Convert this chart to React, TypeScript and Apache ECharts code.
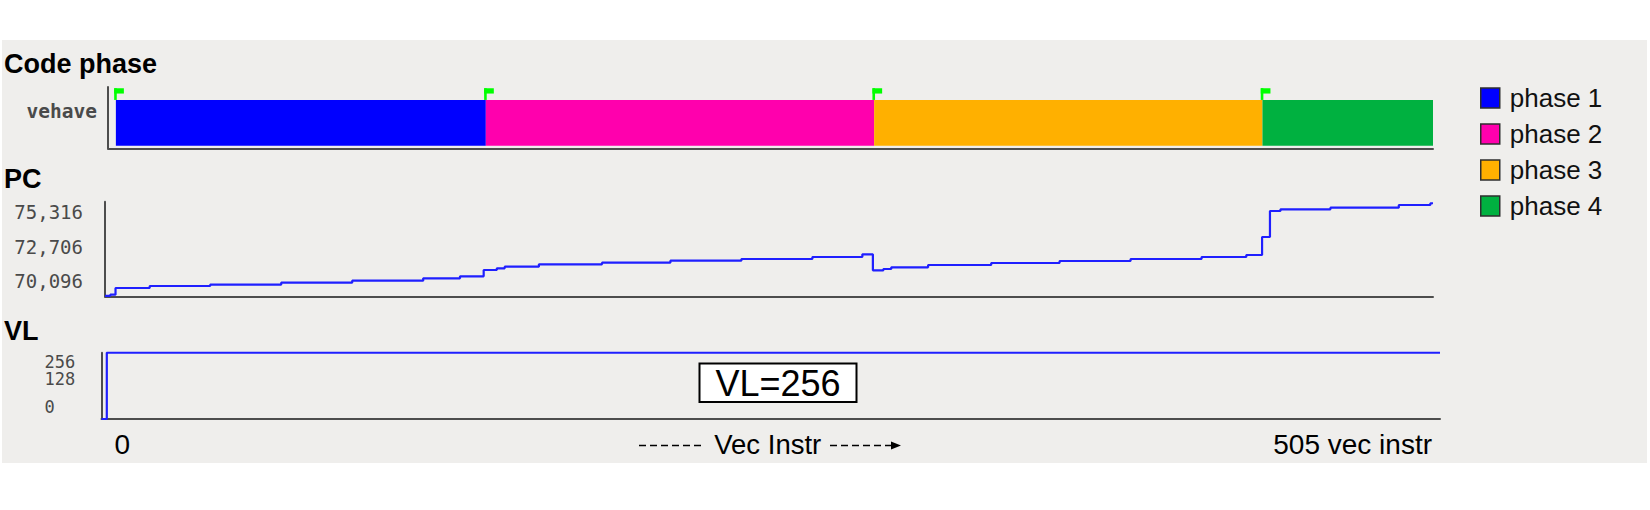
import React, { useEffect, useRef } from 'react';
import * as echarts from 'echarts';

// ---------------- data ----------------
const TITLES = ['Code phase', 'PC', 'VL'];
const THREAD_CATEGORIES = ['vehave'];

const PHASE_NAMES = ['phase 1', 'phase 2', 'phase 3', 'phase 4'];
const PHASE_STARTS = [3, 144, 292, 440];
const PHASE_ENDS = [144, 292, 440, 505];
const PHASE_COLORS = ['#0000ff', '#ff00ad', '#ffb000', '#00b140'];

const PC_INSTR = [0, 2, 4, 17, 40, 67, 94, 121, 135, 144, 149, 152, 165, 189, 215, 242, 269, 288, 292, 296, 299, 313, 337, 363, 390, 417, 434, 440, 443, 447, 466, 492, 504, 505];
const PC_VALUES = [68990, 69080, 69584, 69735, 69833, 69983, 70133, 70314, 70464, 70938, 71066, 71187, 71367, 71487, 71638, 71766, 71916, 72119, 70916, 71014, 71141, 71314, 71465, 71615, 71766, 71916, 72067, 73421, 75376, 75504, 75625, 75828, 75960, 75960];
const PC_TICKS = [70096, 72706, 75316];
const PC_MIN = 68945;
const PC_MAX = 76076;

const VL_INSTR = [0, 2, 505];
const VL_VALUES = [0, 256, 256];
const VL_TICKS = [0, 128, 256];
const VL_NOTE = 'VL=256';

const X_MIN = 0;
const X_MAX = 505;
const X_LABELS = ['0', '505 vec instr'];
const X_NAME = 'Vec Instr';

// ---------------- styles ----------------
const FONT = 'Liberation Sans, Arial, sans-serif';
const MONO = 'DejaVu Sans Mono, monospace';
const AXIS_COLOR = '#4d4d4d';
const LINE_COLOR = '#1f1fff';
const FLAG_COLOR = '#00ff00';
const TICK_TEXT = '#4a4a4a';

const axisLine = { show: true, onZero: false, lineStyle: { color: AXIS_COLOR, width: 2 } };
const noTick = { show: false };
const noSplit = { show: false };

const phaseRender = (params: any, api: any) => {
  const cat = api.value(2);
  const s = api.coord([api.value(0), cat]);
  const e = api.coord([api.value(1), cat]);
  const bottom = s[1] + 28;
  const height = 45.7;
  const top = bottom - height;
  return {
    type: 'group',
    children: [
      { type: 'rect', shape: { x: s[0], y: top, width: e[0] - s[0], height }, style: { fill: api.visual('color') } },
      { type: 'rect', shape: { x: s[0] - 1.7, y: top - 11.7, width: 2.6, height: 11.7 }, style: { fill: FLAG_COLOR } },
      { type: 'rect', shape: { x: s[0] - 1.7, y: top - 11.7, width: 9.7, height: 5.3 }, style: { fill: FLAG_COLOR } },
    ],
  };
};

const vlRich: any = {};
const VL_PADS: Record<number, number[]> = { 0: [0, 0, 25, 0], 128: [0, 0, 13, 0], 256: [18, 0, 0, 0] };
VL_TICKS.forEach((v) => {
  vlRich['t' + v] = { fontFamily: MONO, fontSize: 17, color: TICK_TEXT, padding: VL_PADS[v] || [0, 0, 0, 0] };
});

const option: any = {
  animation: false,
  backgroundColor: '#ffffff',
  textStyle: { fontFamily: FONT },
  title: TITLES.map((t, i) => ({
    text: t,
    left: 4,
    top: [50, 165.5, 317.5][i],
    padding: 0,
    textStyle: { fontFamily: FONT, fontSize: 27, fontWeight: 'bold', color: '#000000' },
  })),
  legend: {
    data: PHASE_NAMES,
    orient: 'vertical',
    left: 1480,
    top: 85,
    padding: 0,
    itemWidth: 19,
    itemHeight: 20,
    itemGap: 10,
    icon: 'rect',
    selectedMode: false,
    itemStyle: { borderColor: '#2e2e2e', borderWidth: 1.5 },
    textStyle: { fontFamily: FONT, fontSize: 26, color: '#111111', padding: [0, 0, 0, 5] },
  },
  grid: [
    { left: 108, top: 87, width: 1325, height: 61.3, outerBoundsMode: 'none', containLabel: false },
    { left: 105, top: 201.7, width: 1328, height: 94.8, outerBoundsMode: 'none', containLabel: false },
    { left: 101.5, top: 352.7, width: 1338.5, height: 66.3, outerBoundsMode: 'none', containLabel: false },
  ],
  xAxis: [
    { gridIndex: 0, type: 'value', min: X_MIN, max: X_MAX, axisLine, axisTick: noTick, axisLabel: { show: false }, splitLine: noSplit },
    { gridIndex: 1, type: 'value', min: X_MIN, max: X_MAX, axisLine, axisTick: noTick, axisLabel: { show: false }, splitLine: noSplit },
    {
      gridIndex: 2,
      type: 'value',
      min: X_MIN,
      max: X_MAX,
      axisLine,
      axisTick: noTick,
      splitLine: noSplit,
      name: X_NAME,
      nameLocation: 'middle',
      nameGap: 11.5,
      nameMoveOverlap: false,
      nameTextStyle: { fontFamily: FONT, fontSize: 27.5, color: '#000000', verticalAlign: 'top', padding: [0, 6, 0, 0] },
      axisLabel: {
        show: true,
        customValues: [X_MIN, X_MAX],
        showMinLabel: true,
        showMaxLabel: true,
        alignMinLabel: 'left',
        alignMaxLabel: 'right',
        margin: 11.5,
        fontFamily: FONT,
        fontSize: 28,
        color: '#000000',
        formatter: (v: number) => (v === X_MIN ? `{s|${X_LABELS[0]}}` : `{e|${X_LABELS[1]}}`),
        rich: {
          s: { fontFamily: FONT, fontSize: 28, color: '#000000', padding: [0, 0, 0, 13] },
          e: { fontFamily: FONT, fontSize: 28, color: '#000000', padding: [0, 8, 0, 0] },
        },
      },
    },
  ],
  yAxis: [
    {
      gridIndex: 0,
      type: 'category',
      data: THREAD_CATEGORIES,
      axisLine,
      axisTick: noTick,
      splitLine: noSplit,
      axisLabel: {
        margin: 11,
        formatter: (v: string) => `{c|${v}}`,
        rich: { c: { fontFamily: MONO, fontSize: 19.5, fontWeight: 'bold', color: TICK_TEXT, padding: [0, 0, 12, 0] } },
      },
    },
    {
      gridIndex: 1,
      type: 'value',
      min: PC_MIN,
      max: PC_MAX,
      axisLine,
      axisTick: noTick,
      splitLine: noSplit,
      axisLabel: {
        customValues: PC_TICKS,
        fontFamily: MONO,
        fontSize: 19,
        color: TICK_TEXT,
        margin: 22,
        formatter: (v: number) => v.toLocaleString('en-US'),
      },
    },
    {
      gridIndex: 2,
      type: 'value',
      min: 0,
      max: 256,
      axisLine,
      axisTick: noTick,
      splitLine: noSplit,
      axisLabel: {
        customValues: VL_TICKS,
        align: 'left',
        margin: 57,
        fontFamily: MONO,
        fontSize: 17,
        color: TICK_TEXT,
        formatter: (v: number) => `{t${v}|${v}}`,
        rich: vlRich,
      },
    },
  ],
  series: [
    ...PHASE_NAMES.map((name, i) => ({
      type: 'custom',
      name,
      xAxisIndex: 0,
      yAxisIndex: 0,
      itemStyle: { color: PHASE_COLORS[i] },
      encode: { x: [0, 1], y: 2 },
      data: [[PHASE_STARTS[i], PHASE_ENDS[i], 0]],
      renderItem: phaseRender,
    })),
    {
      type: 'line',
      name: 'PC',
      xAxisIndex: 1,
      yAxisIndex: 1,
      step: 'end',
      showSymbol: false,
      symbol: 'none',
      lineStyle: { color: LINE_COLOR, width: 2.2 },
      data: PC_INSTR.map((x, i) => [x, PC_VALUES[i]]),
    },
    {
      type: 'line',
      name: 'VL',
      xAxisIndex: 2,
      yAxisIndex: 2,
      step: 'end',
      showSymbol: false,
      symbol: 'none',
      lineStyle: { color: LINE_COLOR, width: 2.2 },
      data: VL_INSTR.map((x, i) => [x, VL_VALUES[i]]),
    },
  ],
  graphic: [
    { type: 'rect', z: -10, silent: true, shape: { x: 2, y: 40, width: 1645, height: 423 }, style: { fill: '#efeeec' } },
    { type: 'rect', z: 10, shape: { x: 699.5, y: 363.5, width: 157, height: 38.5 }, style: { fill: '#ffffff', stroke: '#000000', lineWidth: 2 } },
    {
      type: 'text',
      z: 11,
      x: 778,
      y: 383,
      style: { text: VL_NOTE, font: `36px ${FONT}`, fill: '#000000', align: 'center', verticalAlign: 'middle', textAlign: 'center', textVerticalAlign: 'middle' },
    },
    { type: 'line', z: 10, shape: { x1: 639, y1: 445.5, x2: 705, y2: 445.5 }, style: { stroke: '#000000', lineWidth: 1.5, lineDash: [7, 4] } },
    { type: 'line', z: 10, shape: { x1: 830, y1: 445.5, x2: 893, y2: 445.5 }, style: { stroke: '#000000', lineWidth: 1.5, lineDash: [7, 4] } },
    { type: 'polygon', z: 10, shape: { points: [[891, 441.5], [901, 445.5], [891, 449.5]] }, style: { fill: '#000000' } },
  ],
};

export default function App() {
  const ref = useRef<HTMLDivElement>(null);
  useEffect(() => {
    if (!ref.current) return;
    const chart = echarts.init(ref.current, null, { renderer: 'svg' });
    chart.setOption(option);
    return () => chart.dispose();
  }, []);
  return <div ref={ref} style={{ position: 'absolute', left: 0, top: 0, width: 1650, height: 510 }} />;
}
